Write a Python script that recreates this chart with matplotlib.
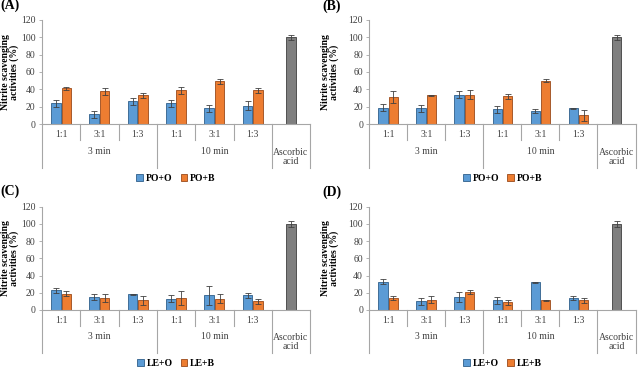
import numpy as np
import matplotlib.pyplot as plt
from matplotlib.patches import Patch

plt.rcParams['font.family'] = ['Liberation Serif', 'DejaVu Serif']

ratios = ["1:1", "3:1", "1:3", "1:1", "3:1", "1:3"]
groups = ["3 min", "10 min"]
ref_label = "Ascorbic\nacid"

# panel A
a_o = [24, 11, 26, 24, 18, 21]
a_o_err = [4, 4, 4, 4, 4, 5]
a_b = [41, 38, 33, 39, 49, 39]
a_b_err = [2, 4, 3, 4, 3, 3]
# panel B
b_o = [19, 18, 34, 17, 15, 18]
b_o_err = [4, 4, 4, 4, 2, 0.5]
b_b = [31, 33, 34, 32, 50, 10]
b_b_err = [7, 1, 5, 3, 2, 6]
# panel C
c_o = [23, 15, 18, 13, 17, 17]
c_o_err = [3, 3, 0.5, 4, 11, 3]
c_b = [19, 14, 11, 14, 13, 10]
c_b_err = [3, 5, 5, 8, 5, 3]
# panel D
d_o = [33, 10, 15, 11, 32, 14]
d_o_err = [3, 4, 6, 4, 1, 2]
d_b = [14, 12, 21, 9, 11, 11]
d_b_err = [2, 4, 2, 3, 1, 3]

ascorbic = 100
ascorbic_err = [3, 3, 4, 4]

blue = "#5B9BD5"
orange = "#ED7D31"
gray = "#7F7F7F"
axis_col = "#A6A6A6"
ekw = dict(ecolor="#404040", elinewidth=0.6, capsize=2, capthick=0.6)


def panel(ax, o, o_err, b, b_err, asc, asc_err, names, ylab_x):
    x = np.arange(len(o))
    w = 0.25
    ax.bar(x - w / 2 - 0.01, o, w, yerr=o_err, color=blue, edgecolor="#2F5F8A",
           linewidth=0.6, error_kw=ekw)
    ax.bar(x + w / 2 + 0.01, b, w, yerr=b_err, color=orange, edgecolor="#9A4A1A",
           linewidth=0.6, error_kw=ekw)
    ax.bar([len(o)], [asc], w, yerr=[asc_err], color=gray, edgecolor="#3F3F3F",
           linewidth=0.6, error_kw=ekw)
    ax.set_xlim(-0.5, len(o) + 0.5)
    ax.set_ylim(0, 120)
    ax.set_yticks(range(0, 121, 20))
    ax.tick_params(axis='y', labelsize=7, labelcolor="#404040", color=axis_col,
                   length=2.5, width=0.6, pad=2)
    ax.set_xticks([])
    for s in ["top", "right"]:
        ax.spines[s].set_visible(False)
    for s in ["left", "bottom"]:
        ax.spines[s].set_color(axis_col)
        ax.spines[s].set_linewidth(0.8)
    ax.set_ylabel("Nitrite scavenging\nactivities (%)", fontsize=7, fontweight="bold",
                  linespacing=1.0)
    ax.yaxis.set_label_coords(ylab_x, 0.5)
    trans = ax.get_xaxis_transform()
    for i, r in enumerate(ratios):
        ax.text(i, -0.105, r, transform=trans, ha="center", va="center", fontsize=7, color="#404040")
    for i, g in enumerate(groups):
        ax.text(i * 3 + 1, -0.26, g, transform=trans, ha="center", va="center", fontsize=7, color="#404040")
    ax.text(len(o), -0.315, ref_label, transform=trans, ha="center", va="center", fontsize=7,
            color="#404040", linespacing=1.05)
    # short separators between ratios
    for xs in [0.5, 1.5, 3.5, 4.5]:
        ax.plot([xs, xs], [0, -0.155], transform=trans, color=axis_col, lw=0.8, clip_on=False)
    # long separators between groups
    for xs in [-0.5, 2.5, 5.5, 6.5]:
        ax.plot([xs, xs], [0, -0.42], transform=trans, color=axis_col, lw=0.8, clip_on=False)
    handles = [Patch(facecolor=blue, edgecolor="#2F5F8A", linewidth=0.6),
               Patch(facecolor=orange, edgecolor="#9A4A1A", linewidth=0.6)]
    ax.legend(handles, names, loc="center", bbox_to_anchor=(0.5, -0.52), ncol=2,
              frameon=False, handlelength=0.7, handleheight=0.7, borderpad=0.1,
              handletextpad=0.3, columnspacing=0.8, prop={"weight": "bold", "size": 7})


fig = plt.figure(figsize=(6.4, 3.68), dpi=100)
axA = fig.add_axes([0.0656, 0.663, 0.419, 0.283])
axB = fig.add_axes([0.577, 0.663, 0.416, 0.283])
axC = fig.add_axes([0.0656, 0.158, 0.419, 0.280])
axD = fig.add_axes([0.577, 0.158, 0.416, 0.280])

panel(axA, a_o, a_o_err, a_b, a_b_err, ascorbic, ascorbic_err[0], ["PO+O", "PO+B"], -0.085)
panel(axB, b_o, b_o_err, b_b, b_b_err, ascorbic, ascorbic_err[1], ["PO+O", "PO+B"], -0.112)
panel(axC, c_o, c_o_err, c_b, c_b_err, ascorbic, ascorbic_err[2], ["LE+O", "LE+B"], -0.085)
panel(axD, d_o, d_o_err, d_b, d_b_err, ascorbic, ascorbic_err[3], ["LE+O", "LE+B"], -0.112)

for tag, fx, fy in [("(A)", 0.0, 0.985), ("(B)", 0.503, 0.982),
                    ("(C)", 0.0, 0.48), ("(D)", 0.503, 0.478)]:
    fig.text(fx, fy, tag, ha="left", va="center", fontsize=10, fontweight="bold")

fig.savefig("out.png", dpi=100)
